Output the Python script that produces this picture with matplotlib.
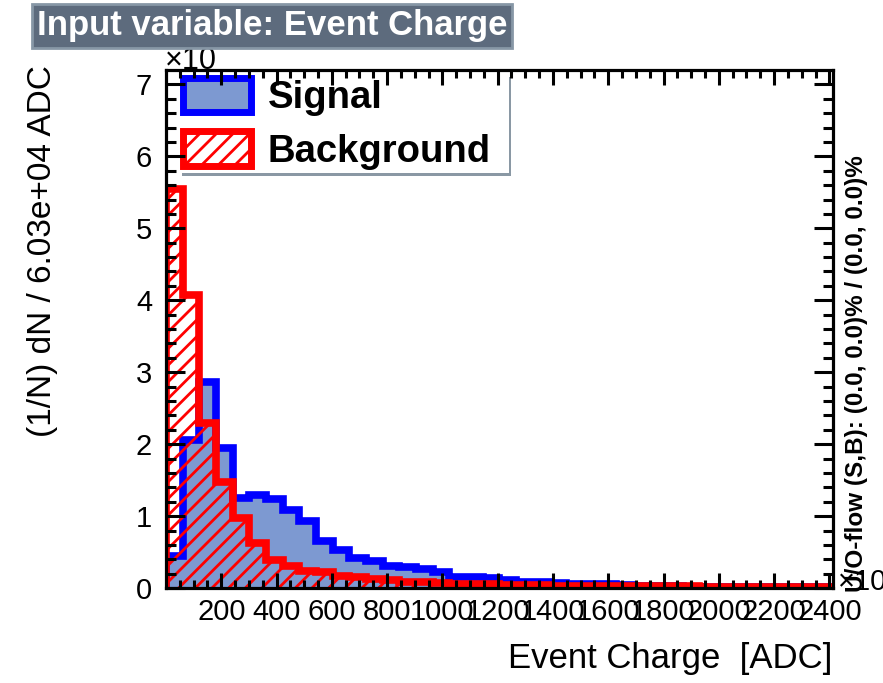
import matplotlib
matplotlib.use("Agg")
import matplotlib.pyplot as plt
from matplotlib.patches import Patch
import numpy as np

plt.rcParams['font.family'] = ['Liberation Sans', 'DejaVu Sans']
plt.rcParams['hatch.linewidth'] = 2.0

# binning of the input variable (units of 10^3 ADC)
x_min = 0.0
bin_width = 60.3
n_bins = 40

# normalised distributions, units of 10^-6
signal = [0.45, 2.06, 2.87, 1.95, 1.25, 1.30, 1.24, 1.08, 0.93, 0.65,
          0.53, 0.42, 0.38, 0.31, 0.29, 0.26, 0.23, 0.16, 0.15, 0.14,
          0.11, 0.09, 0.08, 0.07, 0.06, 0.05, 0.05, 0.04, 0.03, 0.03,
          0.03, 0.02, 0.02, 0.02, 0.02, 0.01, 0.01, 0.01, 0.01, 0.01]
background = [5.54, 4.07, 2.30, 1.48, 0.97, 0.63, 0.39, 0.31, 0.24, 0.22,
              0.17, 0.15, 0.12, 0.11, 0.09, 0.08, 0.07, 0.06, 0.055, 0.05,
              0.045, 0.04, 0.04, 0.035, 0.035, 0.03, 0.03, 0.03, 0.03, 0.025,
              0.025, 0.025, 0.02, 0.02, 0.02, 0.02, 0.02, 0.02, 0.015, 0.015]

x_ticks = [200, 400, 600, 800, 1000, 1200, 1400, 1600, 1800, 2000, 2200, 2400]
y_ticks = [0, 1, 2, 3, 4, 5, 6, 7]

edges = x_min + bin_width * np.arange(n_bins + 1)

sig_fill = '#7d99d1'
sig_line = '#0000ff'
bkg_line = '#ff0000'

fig = plt.figure(figsize=(8.83, 6.83), dpi=100)
ax = fig.add_axes([0.188, 0.139, 0.755, 0.7585])

# signal: filled + outline
ax.stairs(signal, edges, fill=True, facecolor=sig_fill, edgecolor='none', zorder=1)
ax.stairs(signal, edges, baseline=0, color=sig_line, lw=5.5, zorder=1.1)
# background: hatched + outline
ax.stairs(background, edges, fill=True, facecolor='none', edgecolor=bkg_line,
          hatch='//', lw=0, zorder=1.2)
ax.stairs(background, edges, baseline=0, color=bkg_line, lw=5.5, zorder=1.3)

ax.set_xlim(edges[0], edges[-1])
ax.set_ylim(0, 7.2)

ax.set_xticks(x_ticks)
ax.set_xticks(np.arange(50, edges[-1], 50), minor=True)
ax.set_yticks(y_ticks)
ax.set_yticks(np.arange(0, 7.2, 0.2), minor=True)
ax.set_axisbelow(False)

ax.tick_params(which='both', direction='in', top=True, right=True, width=2.2,
               labelsize=21)
ax.tick_params(axis='x', which='major', length=11, pad=7)
ax.tick_params(axis='x', which='minor', length=5.5)
ax.tick_params(axis='y', which='major', length=14, pad=10)
ax.tick_params(axis='y', which='minor', length=7)
for s in ax.spines.values():
    s.set_linewidth(2.3)
    s.set_zorder(3)

ax.set_xlabel('Event Charge  [ADC]', fontsize=25, loc='right')
ax.xaxis.set_label_coords(1.0, -0.105)
ax.set_ylabel('(1/N) dN / 6.03e+04 ADC', fontsize=24, loc='top')
ax.yaxis.set_label_coords(-0.162, 1.01)

# axis exponents
fig.text(165 / 883, 1 - 69 / 683, '×10', fontsize=22, ha='left', va='baseline')
fig.text(838 / 883, 1 - 590 / 683, '×10', fontsize=21, ha='left', va='baseline')

# legend: white pave with a grey shadow on the bottom/right
handles = [Patch(facecolor=sig_fill, edgecolor=sig_line, lw=5, label='Signal'),
           Patch(facecolor='white', edgecolor=bkg_line, hatch='//', lw=5,
                 label='Background')]
leg = ax.legend(handles=handles, loc='upper left',
                bbox_to_anchor=(0.0205, 0, 0.4935, 0.992), mode='expand',
                borderaxespad=0, fancybox=False, framealpha=1,
                prop={'size': 27.5, 'weight': 'bold'}, handlelength=1.78,
                handleheight=1.0, handletextpad=0.43, labelspacing=0.4,
                borderpad=0.1,
                shadow={'facecolor': '#8a98a4', 'edgecolor': 'none', 'alpha': 1})
leg.get_frame().set_edgecolor('none')
leg.set_zorder(2)

# under/overflow info
fig.text(857 / 883, 1 - 592 / 683, 'U/O-flow (S,B): (0.0, 0.0)% / (0.0, 0.0)%',
         rotation=90, fontsize=17.5, fontweight='bold', ha='center', va='bottom')

# title box
fig.text(272 / 883, 1 - 26 / 683, 'Input variable: Event Charge', fontsize=25,
         fontweight='bold', color='white', ha='center', va='center', zorder=10,
         bbox=dict(boxstyle='square,pad=0.15', fc='#5d6b7d', ec='#8797a6', lw=2))

fig.savefig('out.png', dpi=100)
